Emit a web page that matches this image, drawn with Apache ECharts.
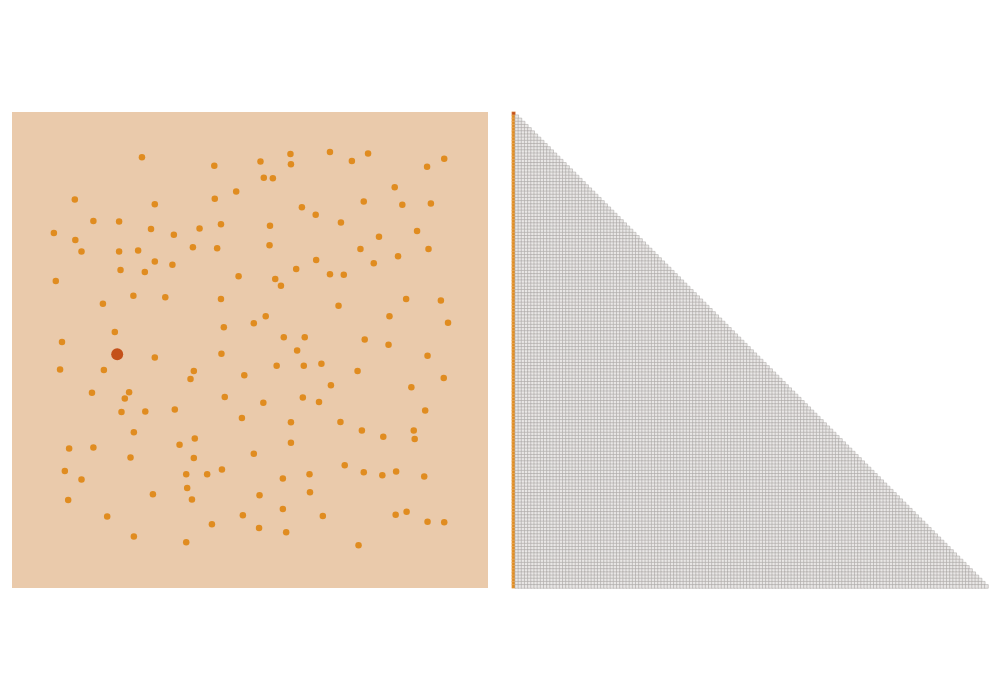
<!DOCTYPE html>
<html>
<head>
<meta charset="utf-8">
<script src="https://cdn.jsdelivr.net/npm/echarts@6/dist/echarts.min.js"></script>
<style>html,body{margin:0;padding:0;background:#fff}#main{width:1000px;height:700px}</style>
</head>
<body>
<div id="main"></div>
<script>
// Point coordinates (index 0 is the selected point)
const xValues = [22.1,
27.3,42.5,47.1,13.2,30.0,42.6,17.1,22.5,8.8,13.3,14.6,29.2,34.0,39.4,43.9,22.5,26.5,30.0,33.7,38.0,43.1,22.8,27.9,9.2,47.6,25.5,32.2,19.1,43.9,21.6,44.5,10.5,
52.2,58.5,58.6,66.8,71.4,74.8,87.2,90.8,52.9,54.8,80.4,60.9,63.8,73.9,82.0,88.0,54.2,69.1,85.1,77.1,54.1,73.2,87.5,81.1,63.9,76.0,59.7,66.8,69.7,55.3,56.5,82.8,90.1,68.6,53.3,50.8,79.3,91.6,57.1,61.5,74.1,79.1,59.9,
30.0,44.0,10.1,19.3,38.2,37.5,48.8,16.8,24.6,23.7,44.7,23.0,28.0,34.2,48.3,25.6,38.4,35.2,12.0,17.1,24.9,38.2,11.1,14.6,36.6,41.0,44.1,36.8,37.8,29.6,11.8,20.0,48.5,42.0,25.6,36.6,
87.3,55.6,61.3,65.0,72.6,90.7,67.0,83.9,52.8,61.1,64.5,86.8,58.6,69.0,73.5,78.0,84.4,84.6,58.6,50.8,69.9,56.9,62.5,73.9,77.8,80.7,86.6,52.0,62.6,56.9,65.3,80.6,82.9,87.3,90.8,51.9,57.6,72.8];
const yValues = [49.1,
90.5,88.7,83.3,81.6,80.6,81.8,77.1,77.0,74.6,73.1,70.7,75.4,74.2,75.5,76.4,70.7,70.9,68.6,67.9,71.6,71.4,66.8,66.4,64.5,65.5,61.4,61.1,59.7,60.7,53.8,54.8,51.7,
89.6,91.2,89.0,91.6,89.7,91.3,88.5,90.2,86.2,86.1,84.2,80.0,78.4,81.2,80.5,80.8,76.1,76.8,75.0,73.8,72.0,71.2,71.2,69.7,68.9,68.2,67.0,65.9,65.8,64.9,63.5,60.7,60.4,59.3,57.1,55.6,57.1,55.7,52.7,52.7,52.2,51.1,49.9,
48.4,49.2,45.9,45.8,45.6,43.9,44.7,41.0,41.1,39.8,40.1,37.0,37.1,37.5,35.7,32.7,31.4,30.1,29.3,29.5,27.4,27.3,24.6,22.8,23.9,23.9,24.9,21.0,18.6,19.7,18.5,15.0,15.3,13.4,10.8,9.6,
48.8,46.7,46.7,47.1,45.6,44.1,42.6,42.2,38.9,40.0,39.1,37.3,34.8,34.9,33.1,31.8,33.1,31.3,30.5,28.2,25.8,23.0,23.9,24.3,23.7,24.5,23.4,19.5,20.1,16.6,15.1,15.4,16.0,13.9,13.8,12.6,11.7,9.0];
const selectedIndex = 0;

const N = xValues.length;
const pointIndices = xValues.map((_, i) => String(i));

const scatterData = xValues.map((x, i) => [x, yValues[i]]);
const otherPoints = scatterData.filter((_, i) => i !== selectedIndex);
const selectedPoint = [scatterData[selectedIndex]];

// Lower-triangular pair matrix: 2 = selected self, 1 = pair with selected point, 0 = other pair
const matrixData = [];
for (let i = 0; i < N; i++) {
  for (let j = 0; j <= i; j++) {
    let v = 0;
    if (j === selectedIndex || i === selectedIndex) v = (i === j) ? 2 : 1;
    if (v > 0) {
      matrixData.push({value: [j, i, v], itemStyle: {borderColor: '#f0c08a', borderWidth: 0.4}});
    } else {
      matrixData.push([j, i, v]);
    }
  }
}

const chart = echarts.init(document.getElementById('main'));
chart.setOption({
  animation: false,
  grid: [
    {left: 12, top: 112, width: 476, height: 476, show: true, backgroundColor: '#eacaab', borderWidth: 0},
    {left: 512, top: 112, width: 476, height: 476, show: false}
  ],
  xAxis: [
    {type: 'value', gridIndex: 0, min: 0, max: 100, show: false},
    {type: 'category', gridIndex: 1, data: pointIndices, show: false},
  ],
  yAxis: [
    {type: 'value', gridIndex: 0, min: 0, max: 100, show: false},
    {type: 'category', gridIndex: 1, data: pointIndices, inverse: true, show: false}
  ],
  visualMap: {
    type: 'piecewise', show: false, seriesIndex: 2, dimension: 2,
    pieces: [
      {value: 0, color: '#e9e7e6'},
      {value: 1, color: '#e08c20'},
      {value: 2, color: '#c4511a'}
    ]
  },
  series: [
    {type: 'scatter', xAxisIndex: 0, yAxisIndex: 0, data: otherPoints, symbolSize: 6.5,
     itemStyle: {color: '#e08c20', opacity: 1}, silent: true},
    {type: 'scatter', xAxisIndex: 0, yAxisIndex: 0, data: selectedPoint, symbolSize: 12,
     itemStyle: {color: '#c4511a', opacity: 1}, silent: true},
    {type: 'heatmap', xAxisIndex: 1, yAxisIndex: 1, data: matrixData, progressive: 0,
     itemStyle: {borderColor: '#a29e9c', borderWidth: 0.5}, silent: true}
  ]
});
</script>
</body>
</html>
